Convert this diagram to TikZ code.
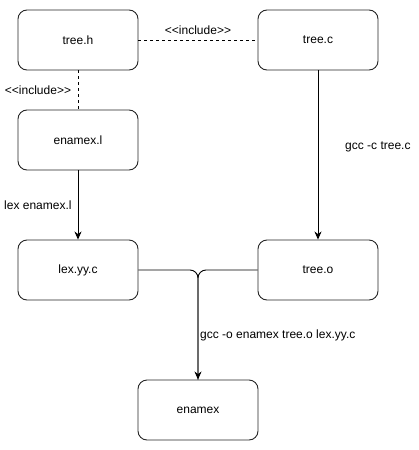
\documentclass[tikz,border=0pt]{standalone}
\usepackage{fontspec}
\setmainfont{Liberation Sans}[Ligatures=TeXOff]
\usetikzlibrary{arrows.meta}
\tikzset{
  file/.style={draw=black!85,line width=0.9pt,rounded corners=9pt,
    minimum width=120pt,minimum height=60pt,inner sep=0pt},
  lbl/.style={inner sep=0pt},
  incl/.style={line width=0.9pt,dash pattern=on 3pt off 3pt},
  build/.style={line width=0.9pt,-{Stealth[length=8pt,width=7pt,inset=2.5pt]}}
}
\begin{document}
\begin{tikzpicture}[x=1pt,y=-1pt,font=\fontsize{12}{14}\selectfont]
   \useasboundingbox (0,0) rectangle (419,450);
   \node[file] (treeh)   at (78,40)   {tree.h};
   \node[file] (treec)   at (318,40)  {tree.c};
   \node[file] (enamexl) at (78,140)  {enamex.l};
   \node[file] (lexyyc)  at (78,270)  {lex.yy.c};
   \node[file] (treeo)   at (318,270) {tree.o};
   \node[file] (enamex)  at (198,410) {enamex};
   \draw[incl] (treeh) -- (treec);
   \draw[incl] (treeh) -- (enamexl);
   \draw[build] (treec) -- (treeo);
   \draw[build] (enamexl) -- (lexyyc);
   \draw[build,rounded corners=8pt] (lexyyc.east) -| (enamex.north);
   \draw[line width=0.9pt,rounded corners=8pt] (treeo.west) -| (enamex.north);
   \node[lbl] (inclh) at (198,30) {<<include>>};
   \node[lbl] (inclv) at (38,90)  {<<include>>};
   \node[lbl,anchor=west] (gccc) at (345,147) {gcc -c tree.c};
   \node[lbl,anchor=west] (lexl) at (4,205)   {lex enamex.l};
   \node[lbl,anchor=west] (gcco) at (200,335) {gcc -o enamex tree.o lex.yy.c};
\end{tikzpicture}
\end{document}
